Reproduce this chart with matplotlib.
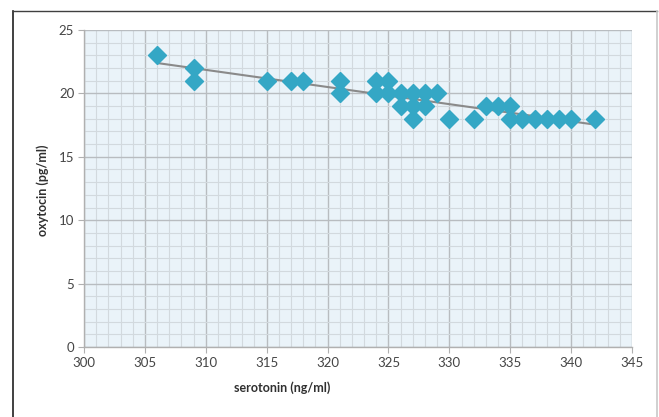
import matplotlib
matplotlib.use("Agg")
from matplotlib import pyplot as plt
from matplotlib.lines import Line2D
from matplotlib.ticker import MultipleLocator
import numpy as np

plt.rcParams['font.family'] = ['Lato', 'DejaVu Sans']

# serotonin (ng/ml) vs oxytocin (pg/ml)
serotonin = [306, 309, 309, 315, 317, 318, 321, 321, 324, 324, 325, 325,
             326, 326, 327, 327, 327, 328, 328, 329, 330, 332, 333, 334,
             335, 335, 336, 337, 338, 339, 340, 342]
oxytocin = [23, 22, 21, 21, 21, 21, 21, 20, 21, 20, 21, 20,
            20, 19, 20, 19, 18, 20, 19, 20, 18, 18, 19, 19,
            19, 18, 18, 18, 18, 18, 18, 18]

W, H = 659, 417
fig = plt.figure(figsize=(W / 100, H / 100), dpi=100)
fig.patch.set_facecolor('white')

# plot area in pixels
left, right, top, bottom = 84, 632, 30, 347
ax = fig.add_axes([left / W, 1 - bottom / H, (right - left) / W, (bottom - top) / H])
ax.set_facecolor('#eaf3f9')

ax.set_xlim(300, 345)
ax.set_ylim(0, 25)
ax.xaxis.set_major_locator(MultipleLocator(5))
ax.yaxis.set_major_locator(MultipleLocator(5))
ax.xaxis.set_minor_locator(MultipleLocator(1))
ax.yaxis.set_minor_locator(MultipleLocator(1))
ax.grid(True, which='minor', color='#d2d9de', linewidth=0.8)
ax.grid(True, which='major', color='#b8bcc0', linewidth=1.0)
ax.set_axisbelow(True)

for s in ['top', 'right']:
    ax.spines[s].set_visible(False)
for s in ['left', 'bottom']:
    ax.spines[s].set_color('#b0b0b0')
    ax.spines[s].set_linewidth(1.0)

ax.tick_params(which='major', length=4, color='#b0b0b0', labelsize=9.5,
               labelcolor='#454545', pad=3)
ax.tick_params(which='minor', length=0)

# trendline (linear fit)
k, b = np.polyfit(serotonin, oxytocin, 1)
xs = np.array([min(serotonin), max(serotonin)])
ax.plot(xs, k * xs + b, color='#8a8a8a', linewidth=1.5, zorder=2)

ax.plot(serotonin, oxytocin, linestyle='none', marker='D', markersize=9,
        color='#34a7c5', markeredgecolor='#34a7c5', zorder=3)

fig.text(282 / W, 1 - 388 / H, 'serotonin (ng/ml)', ha='center', va='center',
         fontsize=9, fontweight='bold', color='#303030')
fig.text(43 / W, 1 - 190 / H, 'oxytocin (pg/ml)', ha='center', va='center',
         rotation=90, fontsize=9, fontweight='bold', color='#303030')

# outer frame
fig.add_artist(Line2D([13 / W, 13 / W], [0, 1 - 11 / H], color='#202020', linewidth=1.2))
fig.add_artist(Line2D([13 / W, 657 / W], [1 - 11 / H, 1 - 11 / H], color='#404040', linewidth=1.0))
fig.add_artist(Line2D([657 / W, 657 / W], [0, 1 - 11 / H], color='#c8c8c8', linewidth=1.2))

fig.savefig('out.png', dpi=100)
